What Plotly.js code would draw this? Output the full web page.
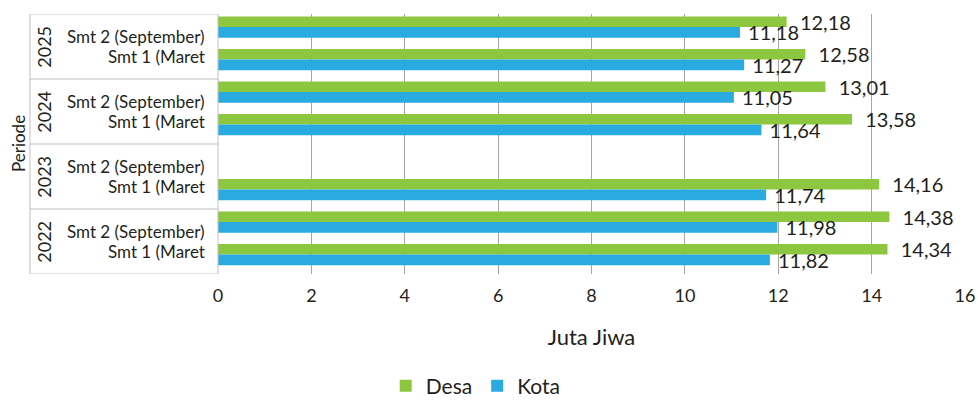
<!DOCTYPE html>
<html>
<head>
<meta charset="utf-8">
<script src="https://cdn.plot.ly/plotly-3.0.1.min.js"></script>
<style>html,body{margin:0;padding:0;background:#fff;}#chart{width:978px;height:401px;}</style>
</head>
<body>
<div id="chart"></div>
<script>
// Categories (bottom to top)
var years = ['2022', '2023', '2024', '2025'];
var semesters = ['Smt 1 (Maret', 'Smt 2 (September)'];
// Values per row: 2022 S1, 2022 S2, 2023 S1, 2023 S2, 2024 S1, 2024 S2, 2025 S1, 2025 S2
var desa = [14.34, 14.38, 14.16, null, 13.58, 13.01, 12.58, 12.18];
var kota = [11.82, 11.98, 11.74, null, 11.64, 11.05, 11.27, 11.18];
var xTicks = [0, 2, 4, 6, 8, 10, 12, 14, 16];

var FONT = 'Lato, "Open Sans", sans-serif';
var TXT = '#231f20';
var GREEN = '#8dc63f';
var BLUE = '#29abe2';

var rowPos = [];
years.forEach(function (y, yi) {
  semesters.forEach(function (s, si) { rowPos.push(yi * semesters.length + si); });
});

var traces = [
  {
    type: 'bar', orientation: 'h', name: 'Desa',
    x: desa, y: rowPos, offset: 0.1, width: 0.32,
    marker: {color: GREEN},
    texttemplate: '\u00a0\u00a0%{x:.2f}', textposition: 'outside', constraintext: 'none', cliponaxis: false,
    textfont: {family: FONT, size: 20, color: TXT},
    hoverinfo: 'x'
  },
  {
    type: 'bar', orientation: 'h', name: 'Kota',
    x: kota, y: rowPos, offset: -0.23, width: 0.33,
    marker: {color: BLUE},
    texttemplate: '\u00a0%{x:.2f}', textposition: 'outside', constraintext: 'none', cliponaxis: false,
    textfont: {family: FONT, size: 20, color: TXT},
    hoverinfo: 'x'
  }
];

var boxX0 = -0.2517;
var shapes = [];
var annotations = [];
var lineStyle = {color: '#c0c0c0', width: 1};
shapes.push({type: 'line', xref: 'paper', yref: 'y', x0: boxX0, x1: boxX0, y0: -0.5, y1: rowPos.length - 0.5, line: lineStyle});
shapes.push({type: 'line', xref: 'paper', yref: 'y', x0: 0, x1: 0, y0: -0.5, y1: rowPos.length - 0.5, line: lineStyle});
for (var k = 0; k <= years.length; k++) {
  var yy = k * semesters.length - 0.5;
  shapes.push({type: 'line', xref: 'paper', yref: 'y', x0: boxX0, x1: 0, y0: yy, y1: yy, line: lineStyle});
}
years.forEach(function (yr, yi) {
  var c = yi * semesters.length + (semesters.length - 1) / 2;
  annotations.push({xref: 'paper', yref: 'y', x: -0.234, y: c, text: yr, textangle: -90,
    showarrow: false, xanchor: 'center', yanchor: 'middle', font: {family: FONT, size: 18, color: TXT}});
  semesters.forEach(function (s, si) {
    annotations.push({xref: 'paper', yref: 'y', x: -0.0147, y: c, yshift: si === 1 ? 10 : -10, text: s,
      showarrow: false, xanchor: 'right', yanchor: 'middle', font: {family: FONT, size: 17, color: TXT}});
  });
});
annotations.push({xref: 'paper', yref: 'paper', x: -0.2677, y: 0.5, text: 'Periode', textangle: -90,
  showarrow: false, xanchor: 'center', yanchor: 'middle', font: {family: FONT, size: 17, color: TXT}});

var layout = {
  width: 978, height: 401,
  margin: {l: 218, r: 13, t: 14, b: 127, autoexpand: false},
  paper_bgcolor: '#ffffff', plot_bgcolor: '#ffffff',
  separators: ',.',
  font: {family: FONT, color: TXT},
  showlegend: true,
  legend: {orientation: 'h', x: 0.345, xanchor: 'center', y: -0.431, yanchor: 'middle',
    font: {family: FONT, size: 21, color: TXT}, traceorder: 'normal', itemwidth: 30},
  xaxis: {
    range: [0, 16], tickvals: xTicks, ticktext: xTicks.map(String), automargin: false,
    showgrid: true, gridcolor: '#a6a6a6', gridwidth: 1, zeroline: false, showline: false,
    ticks: '', ticklabelstandoff: 9,
    tickfont: {family: FONT, size: 18, color: TXT},
    title: {text: 'Juta Jiwa', font: {family: FONT, size: 22, color: TXT}, standoff: 24}
  },
  yaxis: {
    range: [-0.5, rowPos.length - 0.5], showticklabels: false, showgrid: false, zeroline: false, showline: false, ticks: '', automargin: false
  },
  shapes: shapes,
  annotations: annotations
};

Plotly.newPlot('chart', traces, layout, {displayModeBar: false, staticPlot: true});
</script>
</body>
</html>
